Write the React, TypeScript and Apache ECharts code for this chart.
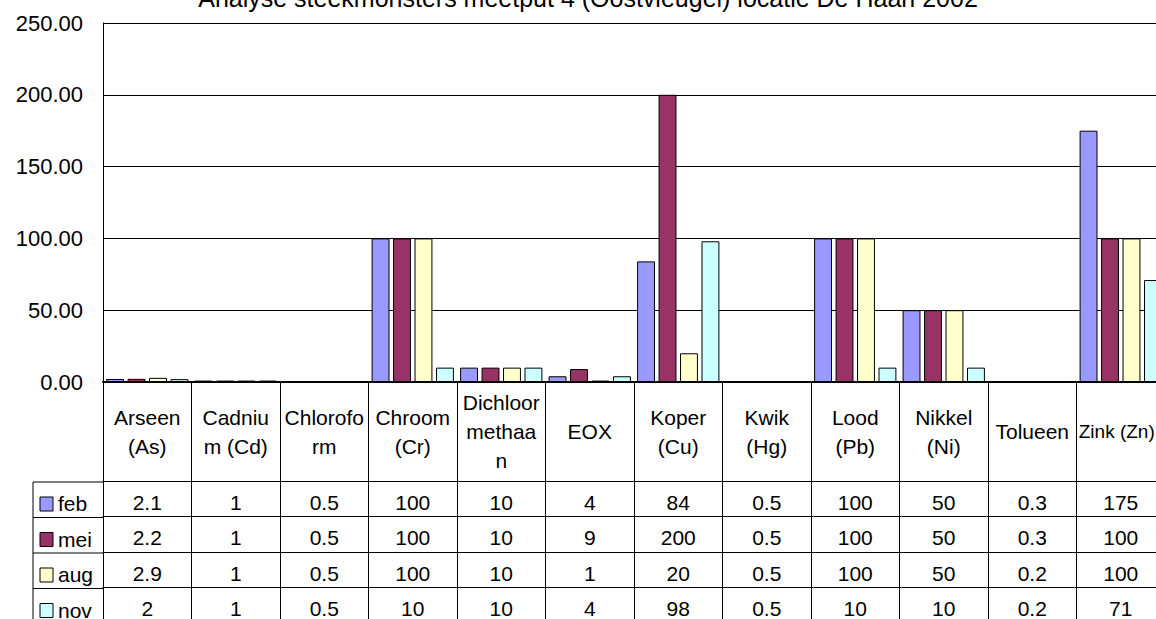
import React, { useEffect, useRef } from "react";
import * as echarts from "echarts";

const title = "Analyse steekmonsters meetput 4 (Oostvleugel) locatie De Haan 2002";
const categories = [
  "Arseen\n(As)",
  "Cadniu\nm (Cd)",
  "Chlorofo\nrm",
  "Chroom\n(Cr)",
  "Dichloor\nmethaa\nn",
  "EOX",
  "Koper\n(Cu)",
  "Kwik\n(Hg)",
  "Lood\n(Pb)",
  "Nikkel\n(Ni)",
  "Tolueen",
  "Zink (Zn)",
];
const seriesNames = ["feb", "mei", "aug", "nov"];
const feb = [2.1, 1, 0.5, 100, 10, 4, 84, 0.5, 100, 50, 0.3, 175];
const mei = [2.2, 1, 0.5, 100, 10, 9, 200, 0.5, 100, 50, 0.3, 100];
const aug = [2.9, 1, 0.5, 100, 10, 1, 20, 0.5, 100, 50, 0.2, 100];
const nov = [2, 1, 0.5, 10, 10, 4, 98, 0.5, 10, 10, 0.2, 71];
const colors = ["#9999FF", "#993366", "#FFFFCC", "#CCFFFF"];
const yMin = 0;
const yMax = 250;
const yStep = 50;

const FONT = "'Liberation Sans', Arial, sans-serif";

export default function App() {
  const ref = useRef<HTMLDivElement>(null);
  useEffect(() => {
    if (!ref.current) return;
    const chart = echarts.init(ref.current, null, { renderer: "svg" });
    const rows = [feb, mei, aug, nov];
    const headerH = 99;
    const rowH = 35.5;
    const gridTop = 23;
    const gridBottomY = 383;
    const totalH = 619;
    const rowAxes = rows.map((r, i) => ({
      type: "category",
      data: categories,
      position: "bottom",
      offset: headerH + i * rowH,
      axisLine: { show: true, lineStyle: { color: "#000", width: 1 } },
      axisTick: { show: true, interval: 0, length: rowH, alignWithLabel: false, lineStyle: { color: "#000", width: 1 } },
      axisLabel: {
        interval: 0,
        margin: 21,
        verticalAlign: "middle",
        color: "#000",
        fontFamily: FONT,
        fontSize: 21,
        formatter: (_v: string, idx: number) => String(r[idx]),
      },
      splitLine: { show: false },
    }));
    const legendEls: any[] = [];
    const lx0 = 33;
    const lx1 = 103;
    for (let i = 0; i < 4; i++) {
      const y = gridBottomY + headerH + i * rowH;
      legendEls.push({ type: "line", shape: { x1: lx0, y1: y, x2: lx1, y2: y }, style: { stroke: "#000", lineWidth: 1 } });
      legendEls.push({
        type: "rect",
        shape: { x: 40, y: y + 15, width: 13, height: 14 },
        style: { fill: colors[i], stroke: "#000", lineWidth: 1 },
      });
      legendEls.push({
        type: "text",
        x: 58,
        y: y + 21.5,
        style: {
          text: seriesNames[i],
          fontFamily: FONT,
          fontSize: 21,
          fill: "#000",
          align: "left",
          verticalAlign: "middle",
        },
      });
    }
    legendEls.push({
      type: "line",
      shape: { x1: lx0, y1: gridBottomY + headerH, x2: lx0, y2: totalH },
      style: { stroke: "#000", lineWidth: 1 },
    });
    chart.setOption({
      animation: false,
      backgroundColor: "#fff",
      textStyle: { fontFamily: FONT },
      graphic: [
        {
          type: "text",
          x: 588,
          y: -2,
          style: {
            text: title,
            fontFamily: FONT,
            fontSize: 25,
            fill: "#000",
            align: "center",
            verticalAlign: "middle",
          },
        },
        ...legendEls,
      ],
      grid: { left: 103, top: gridTop, right: 1180 - 1165, bottom: totalH - gridBottomY, containLabel: false },
      xAxis: [
        {
          type: "category",
          data: categories,
          position: "bottom",
          axisLine: { show: true, lineStyle: { color: "#000", width: 2 } },
          axisTick: { show: true, interval: 0, length: headerH, alignWithLabel: false, lineStyle: { color: "#000", width: 1 } },
          axisLabel: {
            interval: 0,
            margin: 49.5,
            verticalAlign: "middle",
            align: "center",
            lineHeight: 29,
            color: "#000",
            fontFamily: FONT,
            fontSize: 21,
            formatter: (v: string, idx: number) => (idx === categories.length - 1 ? "{s|" + v + "}" : v),
            rich: { s: { fontSize: 19, fontFamily: FONT, color: "#000", padding: [0, 8, 0, 0] } },
          },
          splitLine: { show: false },
        },
        ...rowAxes,
      ],
      yAxis: {
        type: "value",
        min: yMin,
        max: yMax,
        interval: yStep,
        axisLine: { show: true, lineStyle: { color: "#000", width: 1 } },
        axisTick: { show: false },
        axisLabel: {
          margin: 20,
          color: "#000",
          fontFamily: FONT,
          fontSize: 22,
          formatter: (v: number) => v.toFixed(2),
        },
        splitLine: { show: true, lineStyle: { color: "#000", width: 1 } },
      },
      series: rows.map((r, i) => ({
        name: seriesNames[i],
        type: "bar",
        xAxisIndex: 0,
        data: r,
        barCategoryGap: "7%",
        barGap: "20%",
        itemStyle: { color: colors[i], borderColor: "#000", borderWidth: 1 },
      })),
    });
    return () => chart.dispose();
  }, []);
  return (
    <div style={{ position: "fixed", left: 0, top: 0, width: 1156, height: 619, overflow: "hidden", background: "#fff" }}>
      <div ref={ref} style={{ width: 1180, height: 619 }} />
    </div>
  );
}
